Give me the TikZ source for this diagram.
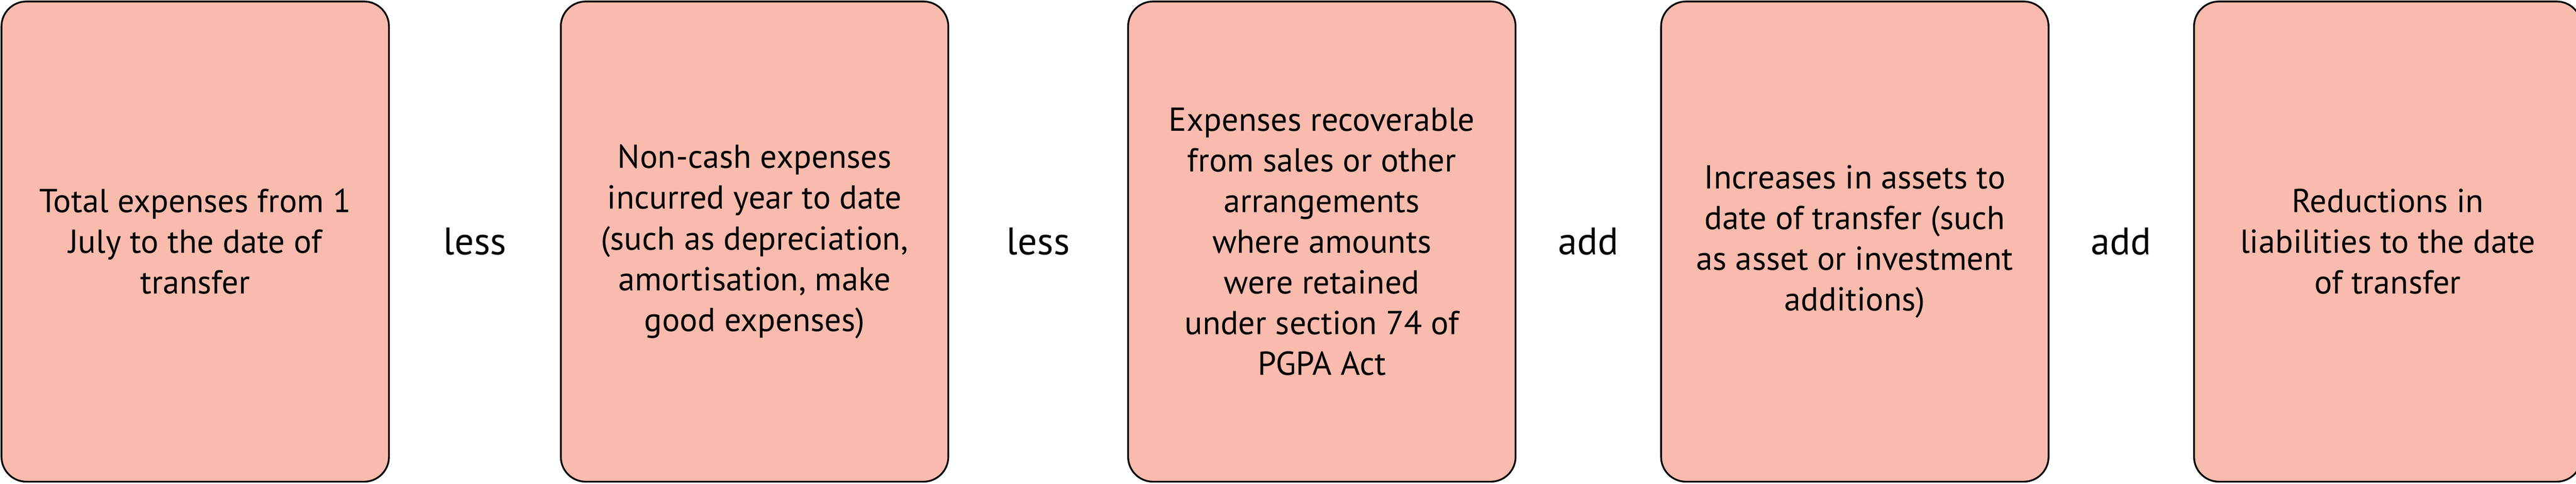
\documentclass[tikz,border=0pt]{standalone}
\usepackage{fontspec}
\setmainfont{PT Sans}
\usetikzlibrary{positioning,calc}
\definecolor{boxfill}{HTML}{F8BBAD}

\begin{document}
\begin{tikzpicture}[line width=1pt, item/.style={draw,rounded corners=0.5cm,fill=boxfill,minimum width=7.79cm,minimum height=9.66cm,align=center,inner sep=0pt,font=\fontsize{19}{23.3}\selectfont}, op/.style={font=\fontsize{22}{26}\selectfont}]
	\useasboundingbox (0,0) rectangle (51.79,9.73);
	\node[item] (total) at (3.925,4.87) {Total expenses from 1\\July to the date of\\transfer};
	\node[item] (noncash) [right=3.42cm of total] {Non-cash expenses\\incurred year to date\\(such as depreciation,\\amortisation, make\\good expenses)};
	\node[item] (recover) [right=3.58cm of noncash] {Expenses recoverable\\from sales or other\\arrangements\\where amounts\\were retained\\under section 74 of\\PGPA Act};
	\node[item] (assets) [right=2.89cm of recover] {Increases in assets to\\date of transfer (such\\as asset or investment\\additions)};
	\node[item] (liab) [right=2.89cm of assets] {Reductions in\\liabilities to the date\\of transfer};
	\node[op] (less1) at ($(total.east)!0.5!(noncash.west)$) {less};
	\node[op] (less2) at ($(noncash.east)!0.5!(recover.west)$) {less};
	\node[op] (add1) at ($(recover.east)!0.5!(assets.west)$) {add};
	\node[op] (add2) at ($(assets.east)!0.5!(liab.west)$) {add};
\end{tikzpicture}
\end{document}
